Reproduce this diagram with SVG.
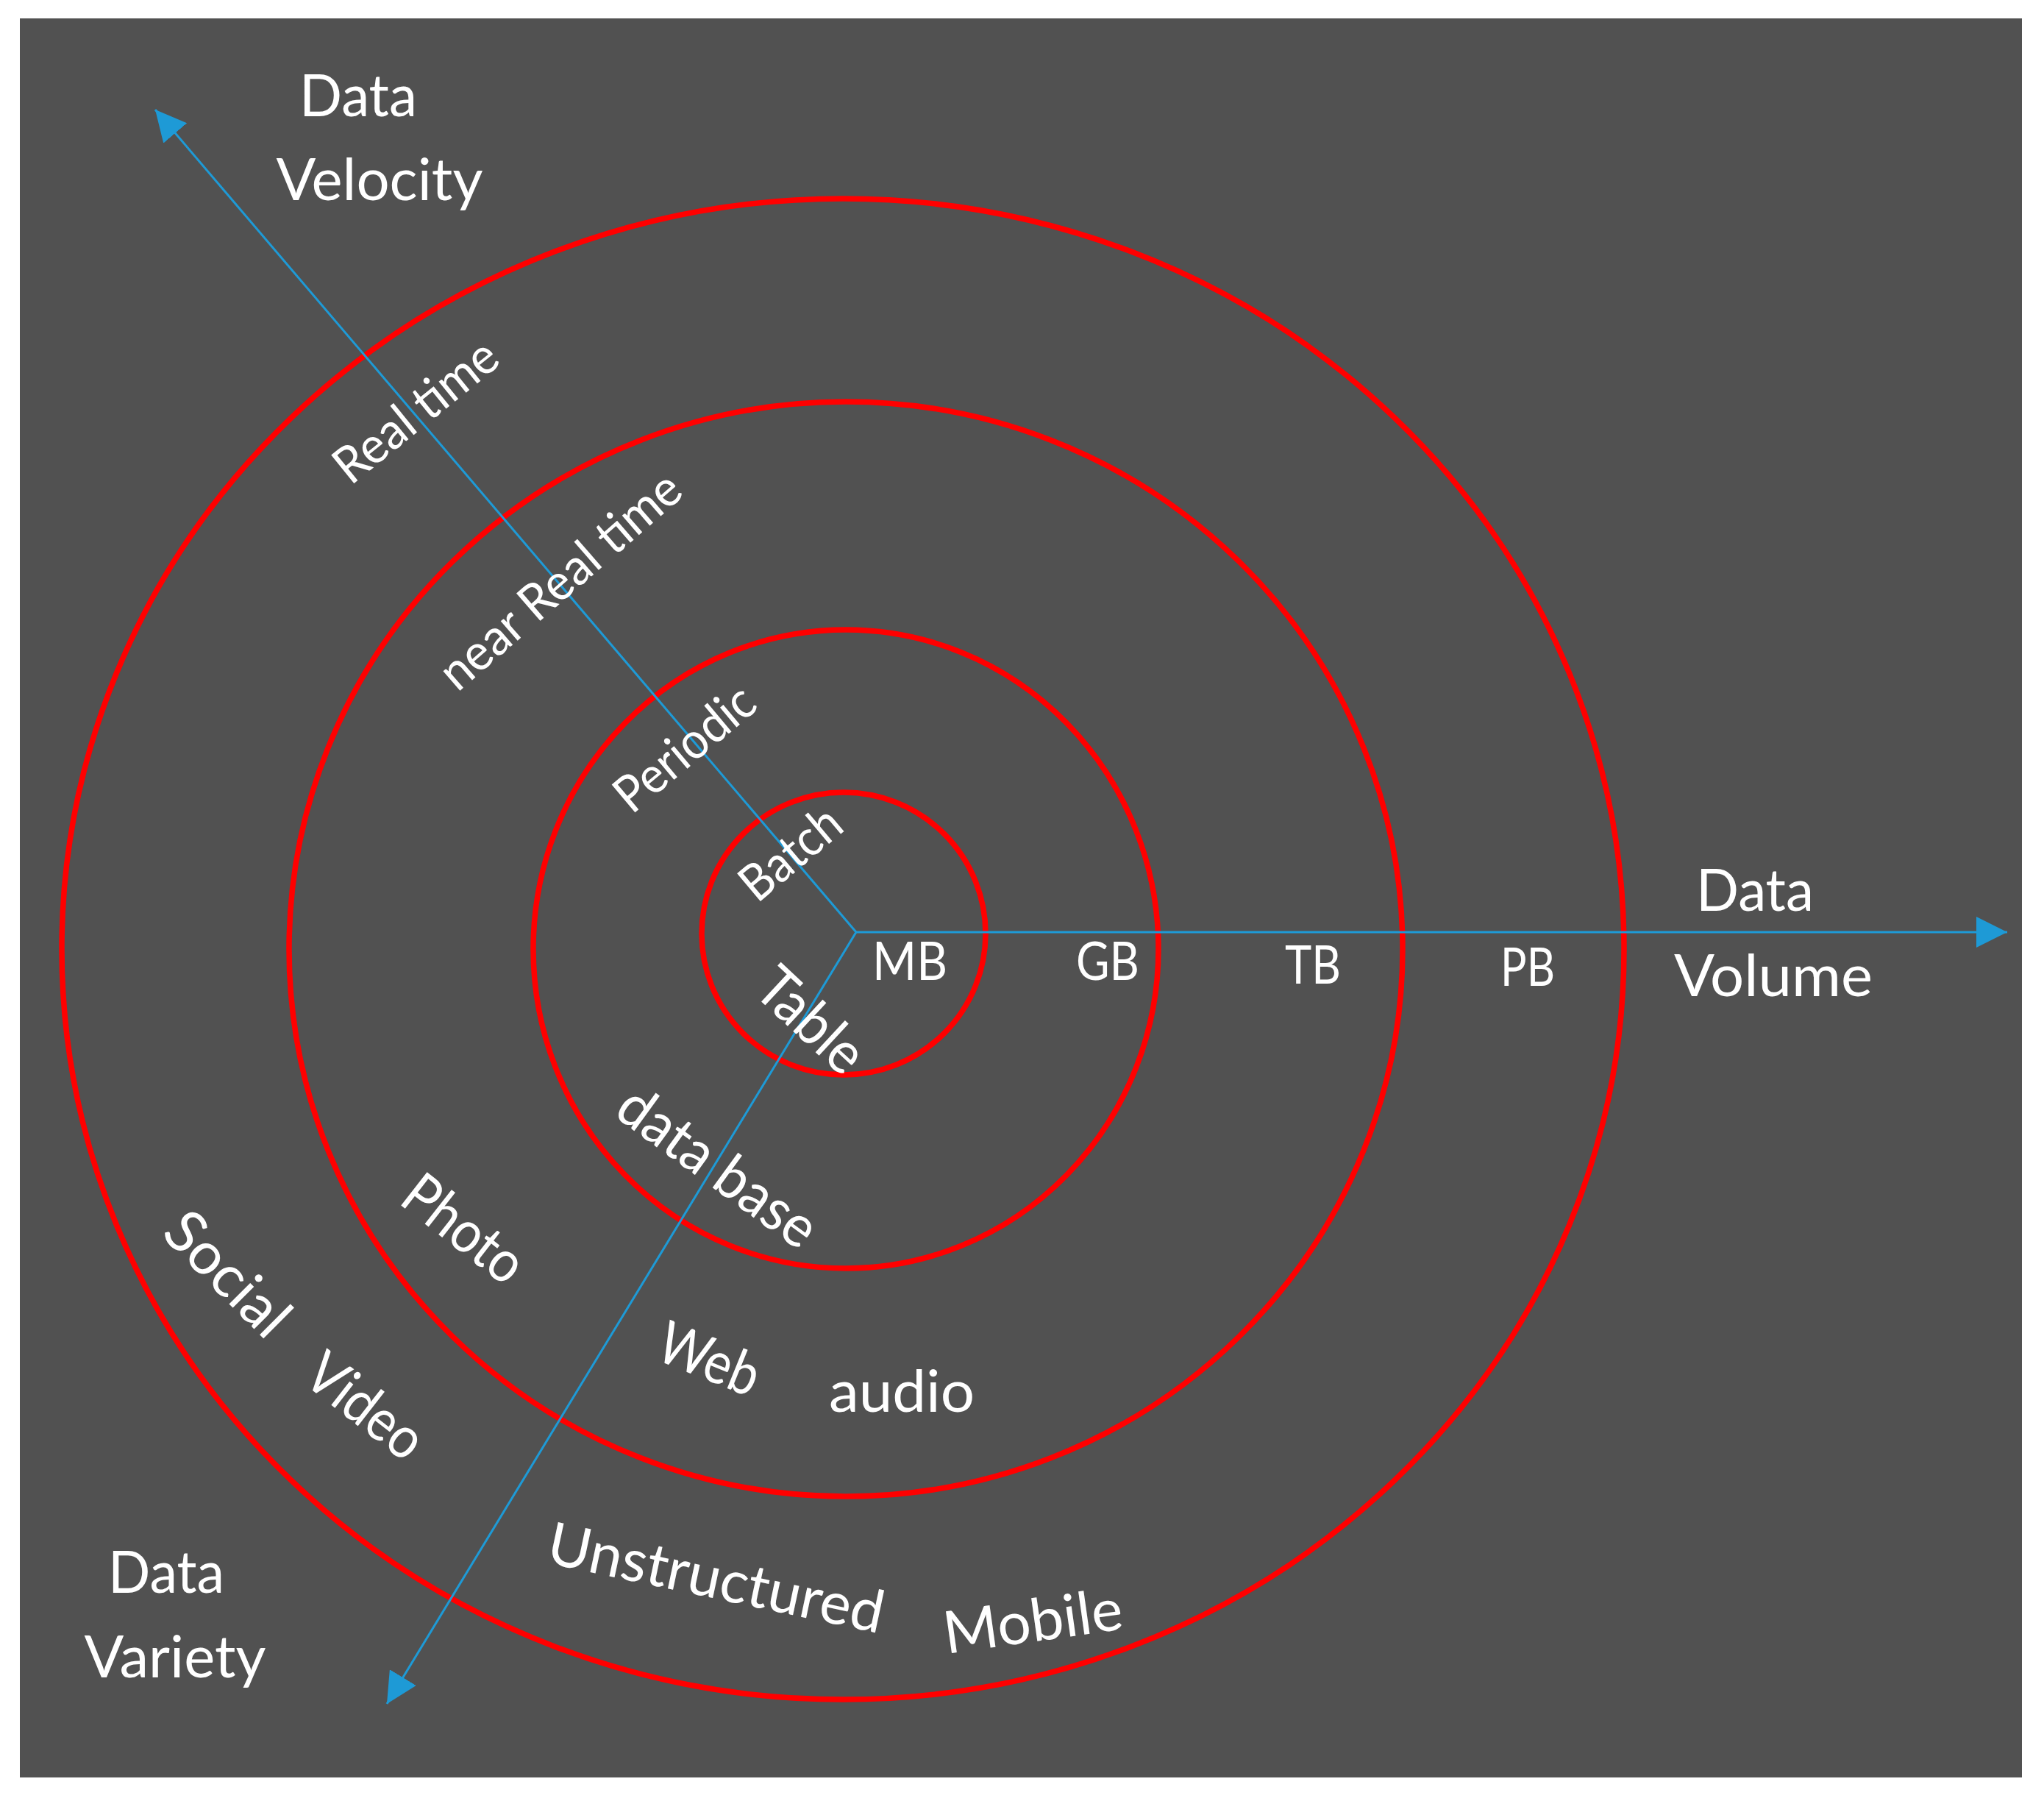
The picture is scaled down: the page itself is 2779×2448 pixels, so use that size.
<svg xmlns="http://www.w3.org/2000/svg" width="2779" height="2448" viewBox="0 0 2779 2448">
<style>
.ring{fill:none;stroke:#FF0000;stroke-width:7.5}
.axis{fill:none;stroke:#1E9AD6;stroke-width:3}
.t{fill:#FFFFFF;font-family:Lato,"Open Sans","Liberation Sans",sans-serif;text-anchor:middle}
.title{font-size:80px}
.unit{font-size:72px}
.vel{font-size:69px}
.var{font-size:80px}
</style>
<defs>
<marker id="arrow" markerUnits="userSpaceOnUse" markerWidth="42" markerHeight="42" refX="42" refY="21" orient="auto">
<path d="M0,0 L42,21 L0,42 z" fill="#1E9AD6"/>
</marker>
</defs>
<rect x="0" y="0" width="2779" height="2448" fill="#FFFFFF"/>
<rect id="background" x="27" y="25" width="2722" height="2391" fill="#515151"/>
<g id="rings">
<ellipse id="ring-pb" class="ring" cx="1146" cy="1290" rx="1062" ry="1020"/>
<ellipse id="ring-tb" class="ring" cx="1150" cy="1290" rx="757" ry="744"/>
<ellipse id="ring-gb" class="ring" cx="1150" cy="1290" rx="425" ry="434"/>
<ellipse id="ring-mb" class="ring" cx="1147" cy="1269" rx="193" ry="192"/>
</g>
<g id="connectors">
<path id="axis-volume" class="axis" d="M1164,1267 L2729,1267" marker-end="url(#arrow)"/>
<path id="axis-velocity" class="axis" d="M1164,1267 L211,149" marker-end="url(#arrow)"/>
<path id="axis-variety" class="axis" d="M1164,1267 L526,2316" marker-end="url(#arrow)"/>
</g>
<g id="title-velocity">
<text class="t title" x="487" y="158" textLength="160" lengthAdjust="spacingAndGlyphs">Data</text>
<text class="t title" x="516" y="272" textLength="281" lengthAdjust="spacingAndGlyphs">Velocity</text>
</g>
<g id="title-volume">
<text class="t title" x="2386" y="1238" textLength="160" lengthAdjust="spacingAndGlyphs">Data</text>
<text class="t title" x="2411" y="1354" textLength="270" lengthAdjust="spacingAndGlyphs">Volume</text>
</g>
<g id="title-variety">
<text class="t title" x="226" y="2165" textLength="158" lengthAdjust="spacingAndGlyphs">Data</text>
<text class="t title" x="238" y="2280" textLength="247" lengthAdjust="spacingAndGlyphs">Variety</text>
</g>
<g id="volume-labels">
<text id="lbl-mb" class="t unit" x="1237" y="1332" textLength="102" lengthAdjust="spacingAndGlyphs">MB</text>
<text id="lbl-gb" class="t unit" x="1506" y="1332" textLength="86" lengthAdjust="spacingAndGlyphs">GB</text>
<text id="lbl-tb" class="t unit" x="1785" y="1337" textLength="76" lengthAdjust="spacingAndGlyphs">TB</text>
<text id="lbl-pb" class="t unit" x="2077" y="1340" textLength="74" lengthAdjust="spacingAndGlyphs">PB</text>
</g>
<g id="velocity-labels">
<text id="lbl-realtime" class="t vel" transform="translate(580,577) rotate(-39)" textLength="266" lengthAdjust="spacingAndGlyphs">Real time</text>
<text id="lbl-nearrealtime" class="t vel" transform="translate(777,807) rotate(-41)" textLength="411" lengthAdjust="spacingAndGlyphs">near Real time</text>
<text id="lbl-periodic" class="t vel" transform="translate(946,1035) rotate(-40)" textLength="227" lengthAdjust="spacingAndGlyphs">Periodic</text>
<text id="lbl-batch" class="t vel" transform="translate(1090,1178) rotate(-40)" textLength="158" lengthAdjust="spacingAndGlyphs">Batch</text>
</g>
<g id="variety-labels">
<text id="lbl-table" class="t var" transform="translate(1084,1407) rotate(43)" textLength="170" lengthAdjust="spacingAndGlyphs">Table</text>
<text id="lbl-database" class="t var" transform="translate(960,1608) rotate(36)" textLength="315" lengthAdjust="spacingAndGlyphs">data base</text>
<text id="lbl-photo" class="t var" transform="translate(614,1692) rotate(38)" textLength="187" lengthAdjust="spacingAndGlyphs">Photo</text>
<text id="lbl-social" class="t var" transform="translate(290,1751) rotate(45)" textLength="205" lengthAdjust="spacingAndGlyphs">Social</text>
<text id="lbl-video" class="t var" transform="translate(480,1933) rotate(38)" textLength="181" lengthAdjust="spacingAndGlyphs">Video</text>
<text id="lbl-web" class="t var" transform="translate(954,1873) rotate(22)" textLength="142" lengthAdjust="spacingAndGlyphs">Web</text>
<text id="lbl-audio" class="t var" x="1226" y="1919" textLength="198" lengthAdjust="spacingAndGlyphs">audio</text>
<text id="lbl-unstructured" class="t var" transform="translate(968,2172) rotate(12)" textLength="465" lengthAdjust="spacingAndGlyphs">Unstructured</text>
<text id="lbl-mobile" class="t var" transform="translate(1408,2231) rotate(-8)" textLength="245" lengthAdjust="spacingAndGlyphs">Mobile</text>
</g>
</svg>
